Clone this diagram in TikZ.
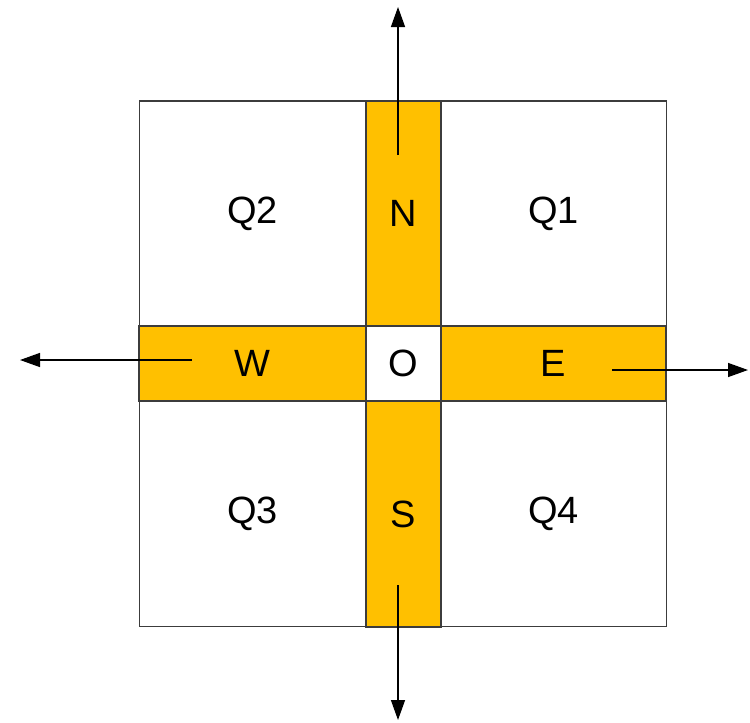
\documentclass[tikz,border=0pt]{standalone}
\usepackage{fontspec}
\setmainfont{Liberation Sans}
\usepackage{tikz}
\usetikzlibrary{arrows.meta}
\definecolor{laneorange}{RGB}{255, 192, 0}
\definecolor{edgegray}{RGB}{60, 60, 60}

\begin{document}
\begin{tikzpicture}[
    x=1pt, y=-1pt,
    every node/.style={font=\fontsize{38}{42}\selectfont, inner sep=0pt},
    quad/.style={rectangle, draw=edgegray, line width=1.2pt, fill=white, minimum width=226pt, minimum height=225pt},
    lane/.style={rectangle, draw=edgegray, line width=1.2pt, fill=laneorange},
    centre/.style={rectangle, draw=edgegray, line width=1.2pt, fill=white, minimum width=75pt, minimum height=75pt},
    arrow/.style={-{Triangle[length=20pt, width=14pt]}, line width=1.4pt}
]
\useasboundingbox (0,0) rectangle (750,723);

% Quadrants
\node[quad] (q2) at (252.5,213.5) {Q2};
\node[quad] (q1) at (553.5,213.5) {Q1};
\node[quad] (q3) at (252.5,514) {Q3};
\node[quad] (q4) at (553.5,514) {Q4};

% Lanes and centre
\node[lane, minimum width=75pt, minimum height=225pt] (n) at (403.5,213.5) {N};
\node[lane, minimum width=75pt, minimum height=226pt] (s) at (403.5,514) {S};
\node[lane, minimum width=227pt, minimum height=75pt] (w) at (252.5,363.5) {W};
\node[lane, minimum width=225pt, minimum height=75pt] (e) at (553.5,363.5) {E};
\node[centre] (o) at (403.5,363.5) {O};

% Arrow ends
\coordinate (nIn) at (398,155);
\coordinate (nOut) at (398,7);
\coordinate (sIn) at (398,585);
\coordinate (sOut) at (398,720);
\coordinate (wIn) at (192,360);
\coordinate (wOut) at (20,360);
\coordinate (eIn) at (612,370);
\coordinate (eOut) at (748,370);

% Arrows
\draw[arrow] (nIn) -- (nOut);
\draw[arrow] (sIn) -- (sOut);
\draw[arrow] (wIn) -- (wOut);
\draw[arrow] (eIn) -- (eOut);

\end{tikzpicture}
\end{document}
